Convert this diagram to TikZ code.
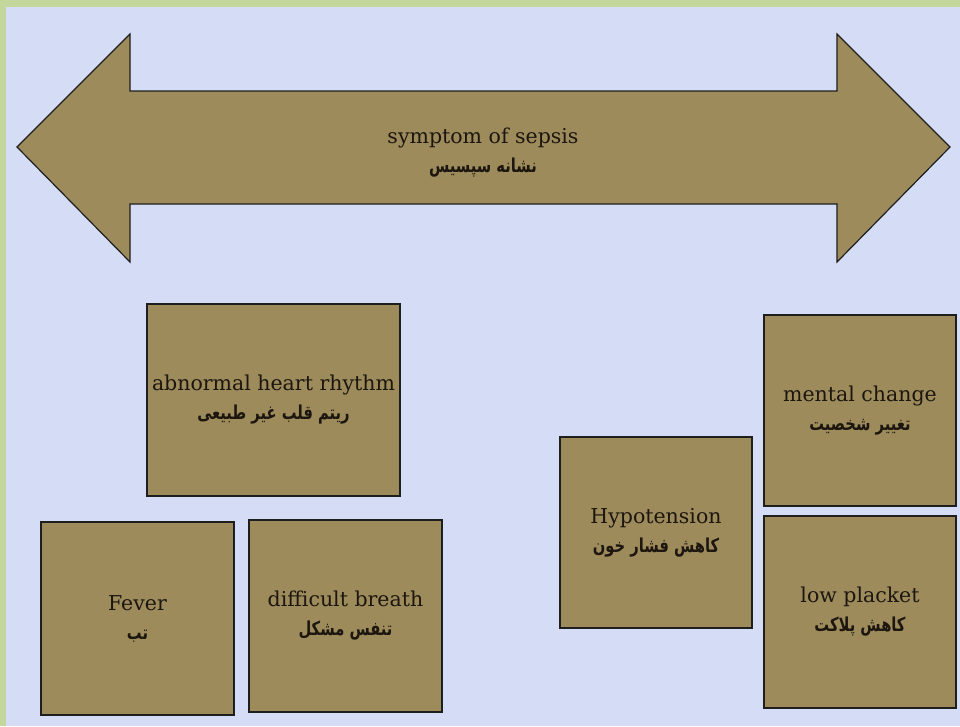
\documentclass[tikz,border=0pt]{standalone}
\usepackage{fontspec}
\setmainfont{DejaVu Serif}
\newfontfamily\fa[Script=Arabic]{DejaVu Sans}
\TeXXeTstate=1
\definecolor{pagebg}{RGB}{213,221,246}
\definecolor{frame}{RGB}{195,214,155}
\definecolor{khaki}{RGB}{157,139,92}
\definecolor{edge}{RGB}{30,30,30}
\definecolor{ink}{RGB}{28,22,14}
% Persian line: bold, set right to left, a little taller and narrower
\newcommand{\fatext}[1]{\scalebox{0.92}[1.2]{\fa\bfseries\fontsize{16}{16}\selectfont\beginR #1\endR}}
\tikzset{
  labeltext/.style={align=center, text=ink, font=\fontsize{20.5}{29}\selectfont},
  symbox/.style={labeltext, draw=edge, line width=1.6pt, fill=khaki, inner sep=0pt},
  bigarrow/.style={draw=edge, line width=1.2pt, fill=khaki, line join=miter}
}
\begin{document}
\begin{tikzpicture}[x=1pt, y=-1pt]
  % page
  \useasboundingbox (0,0) rectangle (960,726);
  \fill[pagebg] (0,0) rectangle (960,726);
  \fill[frame] (0,0) rectangle (960,7);
  \fill[frame] (0,0) rectangle (6,726);

  % double-headed banner arrow
  \draw[bigarrow] (17,147) -- (130,34) -- (130,91) -- (837,91) -- (837,34)
    -- (950,147) -- (837,262) -- (837,204) -- (130,204) -- (130,262) -- cycle;
  \node[labeltext] (title) at (483,153)
    {symptom of sepsis\\ \fatext{نشانه سپسیس}};

  % symptom boxes
  \node[symbox, minimum width=253, minimum height=192] (heart) at (273.5,400)
    {abnormal heart rhythm\\ \fatext{ریتم قلب غیر طبیعی}};
  \node[symbox, minimum width=192, minimum height=191] (mental) at (860,410.5)
    {mental change\\ \fatext{تغییر شخصیت}};
  \node[symbox, minimum width=192, minimum height=191] (hypo) at (656,532.5)
    {Hypotension\\ \fatext{کاهش فشار خون}};
  \node[symbox, minimum width=193, minimum height=193] (fever) at (137.5,618.5)
    {Fever\\ \fatext{تب}};
  \node[symbox, minimum width=193, minimum height=192] (breath) at (345.5,616)
    {difficult breath\\ \fatext{تنفس مشکل}};
  \node[symbox, minimum width=192, minimum height=192] (platelet) at (860,612)
    {low placket\\ \fatext{کاهش پلاکت}};
\end{tikzpicture}
\end{document}
